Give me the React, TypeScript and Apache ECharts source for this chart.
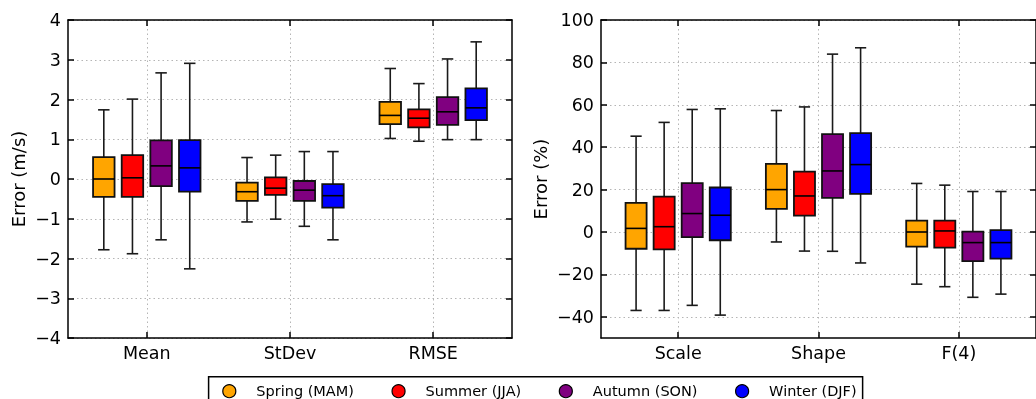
import React, { useEffect, useRef } from 'react';
import * as echarts from 'echarts';

const leftCategories = ['Mean', 'StDev', 'RMSE'];
const rightCategories = ['Scale', 'Shape', 'F(4)'];
const seasonNames = ['Spring (MAM)', 'Summer (JJA)', 'Autumn (SON)', 'Winter (DJF)'];
const seasonColors = ['#ffa500', '#ff0000', '#800080', '#0000ff'];
const seasonOffsets = [-0.3, -0.1, 0.1, 0.3];
const leftTicks = [-4, -3, -2, -1, 0, 1, 2, 3, 4];
const rightTicks = [-40, -20, 0, 20, 40, 60, 80, 100];

// each entry: [whisker low, Q1, median, Q3, whisker high] for Mean, StDev, RMSE (m/s)
const springMs = [[-1.78, -0.45, 0.0, 0.55, 1.74], [-1.08, -0.55, -0.32, -0.09, 0.54], [1.02, 1.38, 1.6, 1.94, 2.78]];
const summerMs = [[-1.88, -0.45, 0.03, 0.6, 2.01], [-1.01, -0.4, -0.23, 0.04, 0.6], [0.95, 1.3, 1.53, 1.75, 2.4]];
const autumnMs = [[-1.53, -0.18, 0.33, 0.97, 2.67], [-1.19, -0.55, -0.28, -0.05, 0.69], [0.99, 1.36, 1.69, 2.06, 3.02]];
const winterMs = [[-2.26, -0.32, 0.28, 0.98, 2.91], [-1.53, -0.72, -0.42, -0.13, 0.69], [0.99, 1.48, 1.79, 2.28, 3.45]];

// each entry: [whisker low, Q1, median, Q3, whisker high] for Scale, Shape, F(4) (%)
const springPct = [[-37, -7.9, 1.7, 13.7, 45.2], [-4.7, 10.9, 20.0, 32.1, 57.3], [-24.6, -6.9, 0, 5.4, 22.9]];
const summerPct = [[-37, -8.2, 2.5, 16.7, 51.7], [-9.0, 7.7, 17.0, 28.5, 59.0], [-25.8, -7.4, 0.5, 5.4, 22.1]];
const autumnPct = [[-34.6, -2.4, 8.7, 23.1, 57.8], [-9.1, 16.1, 28.8, 46.2, 83.9], [-30.8, -13.7, -5.0, 0.2, 19.1]];
const winterPct = [[-39.2, -3.9, 7.9, 21.0, 58.1], [-14.6, 18.0, 31.8, 46.6, 86.9], [-29.3, -12.6, -5.0, 0.9, 19.1]];

const msStats = [springMs, summerMs, autumnMs, winterMs];
const pctStats = [springPct, summerPct, autumnPct, winterPct];

const FONT = 'DejaVu Sans';
const BOX_W = 0.15;
const CAP_W = 0.08;

const minus = (v: number | string) => String(v).replace('-', '\u2212');

function makeRender(offset: number, color: string) {
  return (params: any, api: any) => {
    const x = api.value(0) + offset;
    const lo = api.coord([x, api.value(1)]);
    const q1 = api.coord([x, api.value(2)]);
    const med = api.coord([x, api.value(3)]);
    const q3 = api.coord([x, api.value(4)]);
    const hi = api.coord([x, api.value(5)]);
    const bw = api.size([BOX_W, 0])[0];
    const cw = api.size([CAP_W, 0])[0];
    const cx = lo[0];
    const wStyle = { stroke: '#1a1a1a', lineWidth: 1.6 };
    return {
      type: 'group',
      children: [
        { type: 'line', shape: { x1: cx, y1: hi[1], x2: cx, y2: q3[1] }, style: wStyle },
        { type: 'line', shape: { x1: cx, y1: q1[1], x2: cx, y2: lo[1] }, style: wStyle },
        { type: 'line', shape: { x1: cx - cw / 2, y1: hi[1], x2: cx + cw / 2, y2: hi[1] }, style: wStyle },
        { type: 'line', shape: { x1: cx - cw / 2, y1: lo[1], x2: cx + cw / 2, y2: lo[1] }, style: wStyle },
        {
          type: 'rect',
          shape: { x: cx - bw / 2, y: q3[1], width: bw, height: q1[1] - q3[1] },
          style: { fill: color, stroke: '#111', lineWidth: 1.8 },
        },
        { type: 'line', shape: { x1: cx - bw / 2, y1: med[1], x2: cx + bw / 2, y2: med[1] }, style: { stroke: '#000', lineWidth: 1.6 } },
      ],
    };
  };
}

export default function App() {
  const ref = useRef<HTMLDivElement>(null);
  useEffect(() => {
    if (!ref.current) return;
    const chart = echarts.init(ref.current, undefined, { renderer: 'svg' });
    const axisLine = { show: true, onZero: false, lineStyle: { color: '#000', width: 1.5 } };
    const tick = (vals: number[]) => ({ show: true, inside: true, length: 6, customValues: vals, lineStyle: { color: '#000', width: 1.5 } });
    const split = { show: true, lineStyle: { color: '#b5b5b5', width: 1, type: [1.5, 3] } };
    const labelStyle = { fontSize: 17.5, fontFamily: FONT, color: '#000' };
    const titleStyle = { fontSize: 18, fontFamily: FONT, color: '#000' };

    const xAxes: any[] = [];
    const yAxes: any[] = [];
    [leftCategories, rightCategories].forEach((cats, g) => {
      xAxes.push({
        type: 'value', gridIndex: g, position: 'bottom', min: -0.55, max: 2.55,
        axisLine, axisTick: tick([0, 1, 2]), splitLine: split,
        axisLabel: { ...labelStyle, margin: 6, customValues: [0, 1, 2], formatter: (v: number) => cats[Math.round(v)] },
      });
      xAxes.push({
        type: 'value', gridIndex: g, position: 'top', min: -0.55, max: 2.55,
        axisLine, axisTick: tick([0, 1, 2]), splitLine: { show: false }, axisLabel: { show: false },
      });
    });
    yAxes.push({
      type: 'value', gridIndex: 0, position: 'left', min: -4, max: 4, interval: 1,
      name: 'Error (m/s)', nameLocation: 'middle', nameGap: 41, nameRotate: 90,
      nameTextStyle: { ...titleStyle },
      axisLine, axisTick: tick(leftTicks), splitLine: split,
      axisLabel: { ...labelStyle, margin: 7, customValues: leftTicks, formatter: minus },
    });
    yAxes.push({
      type: 'value', gridIndex: 0, position: 'right', min: -4, max: 4, interval: 1,
      axisLine, axisTick: tick(leftTicks), splitLine: { show: false }, axisLabel: { show: false },
    });
    yAxes.push({
      type: 'value', gridIndex: 1, position: 'left', min: -50, max: 100,
      name: 'Error (%)', nameLocation: 'middle', nameGap: 52, nameRotate: 90,
      nameTextStyle: { ...titleStyle },
      axisLine, axisTick: tick(rightTicks), splitLine: split,
      axisLabel: { ...labelStyle, margin: 7, customValues: rightTicks, formatter: minus },
    });
    yAxes.push({
      type: 'value', gridIndex: 1, position: 'right', min: -50, max: 100,
      axisLine, axisTick: tick(rightTicks), splitLine: { show: false }, axisLabel: { show: false },
    });

    const series: any[] = [];
    [msStats, pctStats].forEach((stats, g) => {
      stats.forEach((st, s) => {
        series.push({
          type: 'custom',
          name: seasonNames[s],
          xAxisIndex: g * 2,
          yAxisIndex: g * 2,
          itemStyle: { color: seasonColors[s] },
          encode: { x: 0, y: [1, 2, 3, 4, 5] },
          data: st.map((row, i) => [i, ...row]),
          renderItem: makeRender(seasonOffsets[s], seasonColors[s]),
          z: 5,
        });
      });
    });

    chart.setOption({
      animation: false,
      textStyle: { fontFamily: FONT },
      grid: [
        { left: 68, top: 20, width: 444, height: 318 },
        { left: 601, top: 20, width: 445, height: 318 },
      ],
      xAxis: xAxes,
      yAxis: yAxes,
      legend: {
        left: 208.6, top: 376.7, orient: 'horizontal',
        itemWidth: 13, itemHeight: 13, itemGap: 37.5,
        padding: [7, 6, 10, 13.6],
        borderColor: '#000', borderWidth: 1.5, borderRadius: 0,
        selectedMode: false,
        textStyle: { fontSize: 14.5, fontFamily: FONT, color: '#000', padding: [0, 0, 0, 15.5] },
        data: seasonNames.map((n, i) => ({
          name: n, icon: 'circle',
          itemStyle: { color: seasonColors[i], borderColor: '#000', borderWidth: 1.2 },
        })),
      },
      series,
    });
    return () => chart.dispose();
  }, []);
  return <div ref={ref} style={{ position: 'fixed', left: 0, top: 0, width: 1036, height: 399 }} />;
}
